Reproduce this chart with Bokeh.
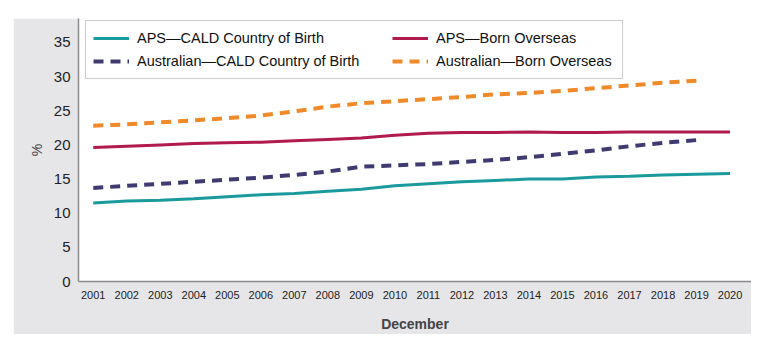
from bokeh.plotting import figure
from bokeh.models import Range1d, FixedTicker, Legend, LegendItem
from bokeh.embed import file_html
from bokeh.resources import INLINE

years = list(range(2001, 2021))
years_aus = list(range(2001, 2020))
aps_cald = [11.5, 11.8, 11.9, 12.1, 12.4, 12.7, 12.9, 13.2, 13.5, 14.0,
            14.3, 14.6, 14.8, 15.0, 15.0, 15.3, 15.4, 15.6, 15.7, 15.8]
aps_born = [19.6, 19.8, 20.0, 20.2, 20.3, 20.4, 20.6, 20.8, 21.0, 21.4,
            21.7, 21.8, 21.8, 21.9, 21.8, 21.8, 21.9, 21.9, 21.9, 21.9]
aus_cald = [13.7, 14.0, 14.3, 14.6, 14.9, 15.2, 15.6, 16.1, 16.8, 17.0,
            17.2, 17.5, 17.8, 18.2, 18.7, 19.2, 19.8, 20.3, 20.7]
aus_born = [22.8, 23.0, 23.3, 23.6, 23.9, 24.3, 24.9, 25.6, 26.1, 26.4,
            26.7, 27.0, 27.4, 27.6, 27.9, 28.3, 28.7, 29.1, 29.4]
y_ticks = [0, 5, 10, 15, 20, 25, 30, 35]

FONT = "Liberation Sans Narrow, Liberation Sans, Arial Narrow, sans-serif"
PANEL = "#e6e6e9"

p = figure(width=738, height=316, output_backend="svg", toolbar_location=None,
           x_range=Range1d(2000.56, 2020.64), y_range=Range1d(0, 38.5),
           min_border_left=65, min_border_right=0, min_border_top=0,
           min_border_bottom=51, border_fill_color=PANEL,
           background_fill_color="white", outline_line_color=None)
p.margin = (18, 17, 17, 13)
p.grid.visible = False

p.xaxis.ticker = FixedTicker(ticks=years)
p.yaxis.ticker = FixedTicker(ticks=y_ticks)
for ax in (p.xaxis[0], p.yaxis[0]):
    ax.axis_line_color = "#8a8a8a"
    ax.axis_line_width = 1.5
    ax.major_tick_line_color = None
    ax.minor_tick_line_color = None
    ax.major_tick_out = 0
    ax.major_tick_in = 0
    ax.minor_tick_out = 0
    ax.major_label_text_font = FONT
    ax.major_label_text_color = "#222222"
p.xaxis.major_label_text_font_size = "11px"
p.yaxis.major_label_text_font_size = "15px"
p.xaxis.major_label_standoff = 9
p.yaxis.major_label_standoff = 8
p.xaxis.axis_label = "December"
p.xaxis.axis_label_text_font = FONT
p.xaxis.axis_label_text_font_style = "bold"
p.xaxis.axis_label_text_font_size = "14px"
p.xaxis.axis_label_standoff = 14
p.yaxis.axis_label = "%"
p.yaxis.axis_label_text_font = FONT
p.yaxis.axis_label_text_font_style = "normal"
p.yaxis.axis_label_text_font_size = "14px"
p.yaxis.axis_label_standoff = 6

r1 = p.line(years, aps_cald, line_color="#1a9a9c", line_width=3)
r2 = p.line(years_aus, aus_cald, line_color="#3f3a70", line_width=4, line_dash="10 7")
r3 = p.line(years, aps_born, line_color="#b01a4c", line_width=3)
r4 = p.line(years_aus, aus_born, line_color="#f0892a", line_width=4, line_dash="10 7")


def style(lg, framed):
    lg.label_text_font = FONT
    lg.label_text_font_size = "14.5px"
    lg.label_text_color = "#111111"
    lg.glyph_width = 36
    lg.glyph_height = 20
    lg.label_standoff = 8
    lg.label_height = 20
    lg.spacing = 3
    lg.padding = 7
    lg.margin = 0
    if framed:
        lg.border_line_color = "#9a9a9a"
        lg.border_line_width = 1.5
        lg.background_fill_color = "white"
        lg.background_fill_alpha = 1
    else:
        lg.border_line_color = None
        lg.background_fill_alpha = 0


legend_a = Legend(items=[
    LegendItem(label="APS\u2014CALD Country of Birth", renderers=[r1]),
    LegendItem(label="Australian\u2014CALD Country of Birth", renderers=[r2]),
], orientation="vertical", location=(7, 202))
style(legend_a, True)
legend_a.label_width = 478

legend_b = Legend(items=[
    LegendItem(label="APS\u2014Born Overseas", renderers=[r3]),
    LegendItem(label="Australian\u2014Born Overseas", renderers=[r4]),
], orientation="vertical", location=(314, 210))
style(legend_b, False)

p.add_layout(legend_a, "center")
p.add_layout(legend_b, "center")

open("out.html", "w").write(file_html(p, INLINE))
